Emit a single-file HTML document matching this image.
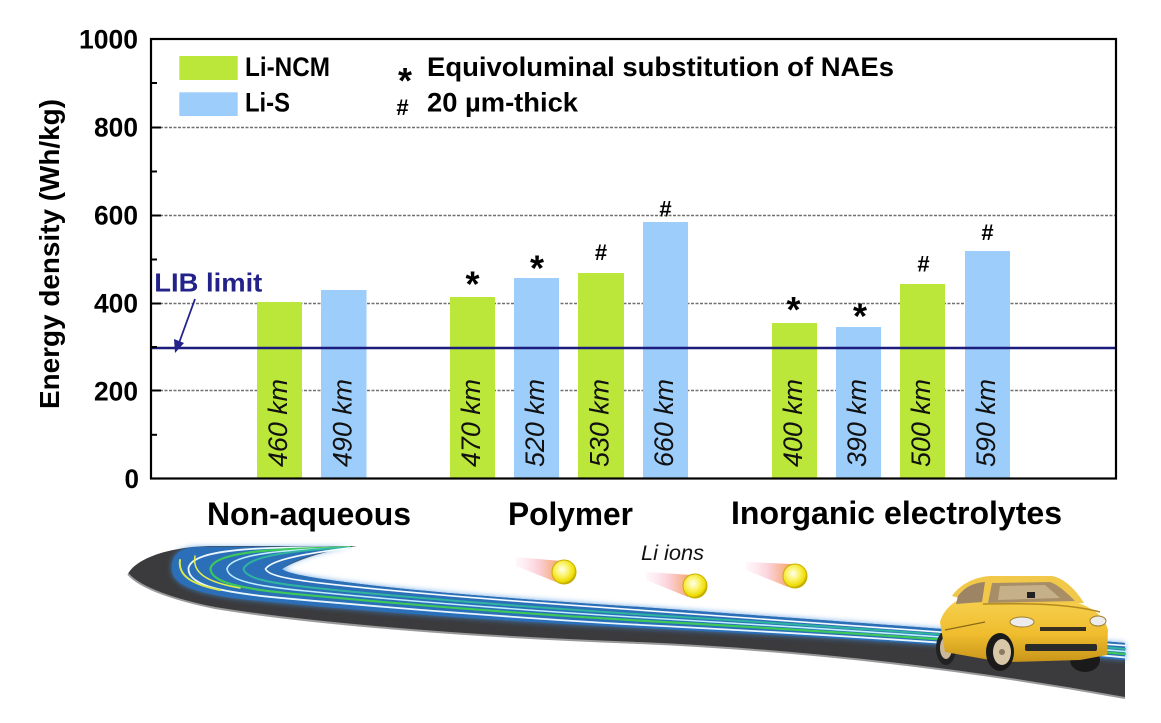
<!DOCTYPE html>
<html><head><meta charset="utf-8"><style>
html,body{margin:0;padding:0;background:#fff;}
svg{display:block;}
text{font-family:"Liberation Sans",Arial,sans-serif;}
</style></head><body>
<svg width="1161" height="723" viewBox="0 0 1161 723" xmlns="http://www.w3.org/2000/svg">
<defs>
<radialGradient id="ball" cx="0.42" cy="0.4" r="0.6">
<stop offset="0" stop-color="#fffff0"/><stop offset="0.45" stop-color="#fbf36a"/><stop offset="0.85" stop-color="#eedc00"/><stop offset="1" stop-color="#b9a200"/>
</radialGradient>
<linearGradient id="trail" x1="0" y1="0" x2="1" y2="0">
<stop offset="0" stop-color="#fde6ef" stop-opacity="0.3"/><stop offset="0.5" stop-color="#fbd0d8"/><stop offset="1" stop-color="#f4a262"/>
</linearGradient>
<linearGradient id="carBody" x1="0" y1="0" x2="0" y2="1">
<stop offset="0" stop-color="#f8d455"/><stop offset="0.6" stop-color="#efbd2e"/><stop offset="1" stop-color="#c9951a"/>
</linearGradient>
<filter id="blur3"><feGaussianBlur stdDeviation="3"/></filter>
</defs>

<!-- grid lines -->
<g stroke="#707070" stroke-width="1.6" stroke-dasharray="3 1.5">
<line x1="151" y1="127.5" x2="1115" y2="127.5"/>
<line x1="151" y1="215.5" x2="1115" y2="215.5"/>
<line x1="151" y1="303.5" x2="1115" y2="303.5"/>
<line x1="151" y1="390.5" x2="1115" y2="390.5"/>
</g>

<!-- bars -->
<g>
<rect x="257" y="302" width="45" height="176.5" fill="#bbe63a"/>
<rect x="321" y="290" width="45.5" height="188.5" fill="#9dcdfb"/>
<rect x="450" y="297" width="45" height="181.5" fill="#bbe63a"/>
<rect x="514" y="278" width="45" height="200.5" fill="#9dcdfb"/>
<rect x="578" y="273" width="46" height="205.5" fill="#bbe63a"/>
<rect x="643" y="222" width="45" height="256.5" fill="#9dcdfb"/>
<rect x="772" y="323" width="45" height="155.5" fill="#bbe63a"/>
<rect x="836" y="327" width="45" height="151.5" fill="#9dcdfb"/>
<rect x="900" y="284" width="45" height="194.5" fill="#bbe63a"/>
<rect x="965" y="251" width="45" height="227.5" fill="#9dcdfb"/>
</g>

<!-- bar labels -->
<g font-size="27" font-style="italic" fill="#111">
<text transform="translate(287,467) rotate(-90)" textLength="88" lengthAdjust="spacingAndGlyphs">460 km</text>
<text transform="translate(351.5,467) rotate(-90)" textLength="88" lengthAdjust="spacingAndGlyphs">490 km</text>
<text transform="translate(480,467) rotate(-90)" textLength="88" lengthAdjust="spacingAndGlyphs">470 km</text>
<text transform="translate(544,467) rotate(-90)" textLength="88" lengthAdjust="spacingAndGlyphs">520 km</text>
<text transform="translate(608.5,467) rotate(-90)" textLength="88" lengthAdjust="spacingAndGlyphs">530 km</text>
<text transform="translate(673,467) rotate(-90)" textLength="88" lengthAdjust="spacingAndGlyphs">660 km</text>
<text transform="translate(802,467) rotate(-90)" textLength="88" lengthAdjust="spacingAndGlyphs">400 km</text>
<text transform="translate(866,467) rotate(-90)" textLength="88" lengthAdjust="spacingAndGlyphs">390 km</text>
<text transform="translate(930,467) rotate(-90)" textLength="88" lengthAdjust="spacingAndGlyphs">500 km</text>
<text transform="translate(995,467) rotate(-90)" textLength="88" lengthAdjust="spacingAndGlyphs">590 km</text>
</g>

<!-- markers -->
<g font-weight="bold" fill="#000" text-anchor="middle">
<text x="472.5" y="296.5" font-size="36">*</text>
<text x="537" y="280.5" font-size="36">*</text>
<text x="793.5" y="322" font-size="36">*</text>
<text x="860" y="328.5" font-size="36">*</text>
<text x="601" y="260" font-size="22">#</text>
<text x="665.5" y="216.5" font-size="22">#</text>
<text x="923.5" y="271.5" font-size="22">#</text>
<text x="987.5" y="240" font-size="22">#</text>
</g>

<!-- LIB limit -->
<line x1="150" y1="348" x2="1116" y2="348" stroke="#1c1c7c" stroke-width="2.5"/>
<text x="154.3" y="291.7" font-size="26" font-weight="bold" fill="#22228a" textLength="108" lengthAdjust="spacingAndGlyphs">LIB limit</text>
<line x1="195" y1="299" x2="179" y2="343" stroke="#22228a" stroke-width="1.8"/>
<polygon points="175,353 174,339 184,343" fill="#22228a"/>

<!-- axes box -->
<rect x="151" y="39" width="965" height="439.5" fill="none" stroke="#000" stroke-width="2.2"/>
<g stroke="#000" stroke-width="2">
<line x1="151" y1="127.5" x2="161" y2="127.5"/>
<line x1="151" y1="215.5" x2="161" y2="215.5"/>
<line x1="151" y1="303.5" x2="161" y2="303.5"/>
<line x1="151" y1="390.5" x2="161" y2="390.5"/>
<line x1="151" y1="83" x2="157" y2="83"/>
<line x1="151" y1="171.5" x2="157" y2="171.5"/>
<line x1="151" y1="259.5" x2="157" y2="259.5"/>
<line x1="151" y1="347" x2="157" y2="347"/>
<line x1="151" y1="434.8" x2="157" y2="434.8"/>
</g>

<!-- tick labels -->
<g font-size="27" font-weight="bold" fill="#000" text-anchor="end">
<text x="138" y="48.5" textLength="59" lengthAdjust="spacingAndGlyphs">1000</text>
<text x="138" y="136.7" textLength="44" lengthAdjust="spacingAndGlyphs">800</text>
<text x="138" y="224.7" textLength="44" lengthAdjust="spacingAndGlyphs">600</text>
<text x="138" y="312.5" textLength="44" lengthAdjust="spacingAndGlyphs">400</text>
<text x="138" y="400.3" textLength="44" lengthAdjust="spacingAndGlyphs">200</text>
<text x="139" y="488" textLength="14.5" lengthAdjust="spacingAndGlyphs">0</text>
</g>

<!-- y title -->
<text transform="translate(59,254) rotate(-90)" font-size="28" font-weight="bold" text-anchor="middle" textLength="310" lengthAdjust="spacingAndGlyphs">Energy density (Wh/kg)</text>

<!-- legend -->
<rect x="179.3" y="56" width="58.4" height="24" fill="#bbe63a"/>
<rect x="179.3" y="92.3" width="58.4" height="23.7" fill="#9dcdfb"/>
<g font-size="27" font-weight="bold" fill="#000">
<text x="245" y="76" textLength="85" lengthAdjust="spacingAndGlyphs">Li-NCM</text>
<text x="245" y="111.7" textLength="45" lengthAdjust="spacingAndGlyphs">Li-S</text>
<text x="427" y="76" textLength="467" lengthAdjust="spacingAndGlyphs">Equivoluminal substitution of NAEs</text>
<text x="427" y="111.7" textLength="151" lengthAdjust="spacingAndGlyphs">20 µm-thick</text>
<text x="405" y="93" font-size="36" text-anchor="middle">*</text>
<text x="402.5" y="115" font-size="22" text-anchor="middle">#</text>
</g>

<!-- category labels -->
<g font-size="32" font-weight="bold" fill="#000">
<text x="207" y="525" textLength="204" lengthAdjust="spacingAndGlyphs">Non-aqueous</text>
<text x="508" y="525" textLength="125" lengthAdjust="spacingAndGlyphs">Polymer</text>
<text x="731" y="524" textLength="331" lengthAdjust="spacingAndGlyphs">Inorganic electrolytes</text>
</g>

<!-- road -->
<path d="M 357,546 L 210,546 C 165,547 135,560 128,574 C 140,588 175,600 215,608 C 300,622 450,636 640,643 C 800,650 960,668 1125,698 L 1125,643 C 1000,633 850,622 640,607 C 500,598 400,590 330,580 C 300,576 285,572 282,569 C 300,558 330,550 357,546 Z" fill="#3b3b3d"/>
<path d="M 128,574 C 140,588 175,600 215,608 C 300,622 450,636 640,643 C 800,650 960,668 1125,698" fill="none" stroke="#9a9a9a" stroke-width="2"/>
<!-- glow -->
<path d="M 350,547 L 200,547 C 178,547 171,556 172,570 C 173,585 195,594 250,600 C 380,613 520,622 640,628 C 850,638 1000,648 1125,660 L 1125,643 C 1000,633 850,622 640,607 C 500,598 400,590 330,580 C 300,576 285,572 282,569 C 295,559 320,551 350,547 Z" fill="#3f8fe0" filter="url(#blur3)" opacity="0.8"/>
<path d="M 350,547 L 200,547 C 178,547 171,556 172,570 C 173,585 195,594 250,600 C 380,613 520,622 640,628 C 850,638 1000,648 1125,660 L 1125,643 C 1000,633 850,622 640,607 C 500,598 400,590 330,580 C 300,576 285,572 282,569 C 295,559 320,551 350,547 Z" fill="#2a6fb8"/>
<!-- streaks -->
<g fill="none" stroke-linecap="round">
<path d="M 350,547.15 C 269,547.05 192.25,547.4 188.5,568.15 C 187.25,585.75 223.5,593 289.2,598.7 C 403,608.85 520,618.4 640,624.85 C 850,635.6 1000,645.75 1125,657.45" stroke="#e8f6ff" stroke-width="1.8"/>
<path d="M 350,547.35 C 281,548.45 215.25,550.6 210.5,568.35 C 210.25,582.75 241.5,589 298.8,594.3 C 407,604.65 520,613.6 640,620.65 C 850,632.4 1000,642.75 1125,654.05" stroke="#3cc85a" stroke-width="2.2"/>
<path d="M 350,547.5 C 290,549.5 232.5,553 227,568.5 C 227.5,580.5 255,586 306,591 C 410,601.5 520,610 640,617.5 C 850,630 1000,640.5 1125,651.5" stroke="#bff0ff" stroke-width="1.6"/>
<path d="M 350,547.65 C 299,549.55 249.75,555.4 243.5,568.65 C 244.75,578.25 268.5,583 313.2,587.7 C 413,598.35 520,606.4 640,614.35 C 850,627.6 1000,638.25 1125,648.95" stroke="#2fb4a0" stroke-width="2"/>
<path d="M 350,547.85 C 311,552.95 272.75,558.6 265.5,568.85 C 267.75,575.25 286.5,579 322.8,583.3 C 417,594.15 520,601.6 640,610.15 C 850,624.4 1000,635.25 1125,645.55" stroke="#f4fbff" stroke-width="1.6"/>
<path d="M 180,560 C 178,575 190,584 220,590" stroke="#d8e84a" stroke-width="2"/>
<path d="M 195,556 C 192,572 205,582 240,588" stroke="#e0ee50" stroke-width="1.5"/>
</g>

<!-- Li ions -->
<polygon points="516,557 516,566 556,582 561,561" fill="url(#trail)"/>
<circle cx="564" cy="572" r="12" fill="url(#ball)" stroke="#c8b000" stroke-width="1"/>
<polygon points="646,572 646,580 688,597 692,575" fill="url(#trail)"/>
<circle cx="695" cy="586" r="12" fill="url(#ball)" stroke="#c8b000" stroke-width="1"/>
<polygon points="746,562 746,570 788,587 792,564" fill="url(#trail)"/>
<circle cx="795" cy="576" r="12" fill="url(#ball)" stroke="#c8b000" stroke-width="1"/>
<text x="641" y="560" font-size="21" font-style="italic" fill="#111" textLength="63" lengthAdjust="spacingAndGlyphs">Li ions</text>

<!-- car -->
<g>
<ellipse cx="946" cy="648" rx="10" ry="17" fill="#222"/>
<ellipse cx="946" cy="648" rx="6" ry="11" fill="#c9b89a"/>
<ellipse cx="1085" cy="660" rx="15" ry="12" fill="#1a1a1a"/>
<path d="M 940,622 C 945,605 960,596 983,592 L 1000,602 L 1075,602 C 1095,608 1105,618 1108,630 L 1107,655 L 1080,660 L 1010,662 L 990,660 L 945,652 Z" fill="url(#carBody)"/>
<path d="M 952,596 C 960,584 975,577 990,576 L 1052,576 C 1064,578 1076,590 1084,603 L 983,605 Z" fill="#f2c84a"/>
<path d="M 992,583 L 1050,582 C 1059,585 1068,594 1075,601 L 988,603 Z" fill="#a88e66"/>
<path d="M 1000,586 L 1045,585 L 1060,598 L 998,600 Z" fill="#cdb993" opacity="0.8"/>
<path d="M 958,596 C 964,588 972,583 985,582 L 982,602 L 956,604 Z" fill="#9c8464"/>
<path d="M 983,604 C 1030,603 1070,604 1100,612" fill="none" stroke="#b48a20" stroke-width="1.5"/>
<ellipse cx="1022" cy="622" rx="12" ry="5" fill="#ececec" stroke="#a08030" stroke-width="1"/>
<ellipse cx="1098" cy="621" rx="8" ry="5" fill="#ececec" stroke="#a08030" stroke-width="1"/>
<rect x="1040" y="627" width="46" height="4" fill="#3a3020"/>
<rect x="1025" y="644" width="72" height="7" rx="2" fill="#2a2a2a"/>
<rect x="1027" y="592" width="8" height="6" fill="#222"/>
<path d="M 945,630 L 985,622" stroke="#8a6a18" stroke-width="1.2"/>
<ellipse cx="1000" cy="652" rx="14" ry="19" fill="#1a1a1a"/>
<ellipse cx="1002" cy="652" rx="9" ry="13" fill="#d8c8a8"/>
<circle cx="1002" cy="652" r="3" fill="#8a7a60"/>
</g>
</svg>
</body></html>
